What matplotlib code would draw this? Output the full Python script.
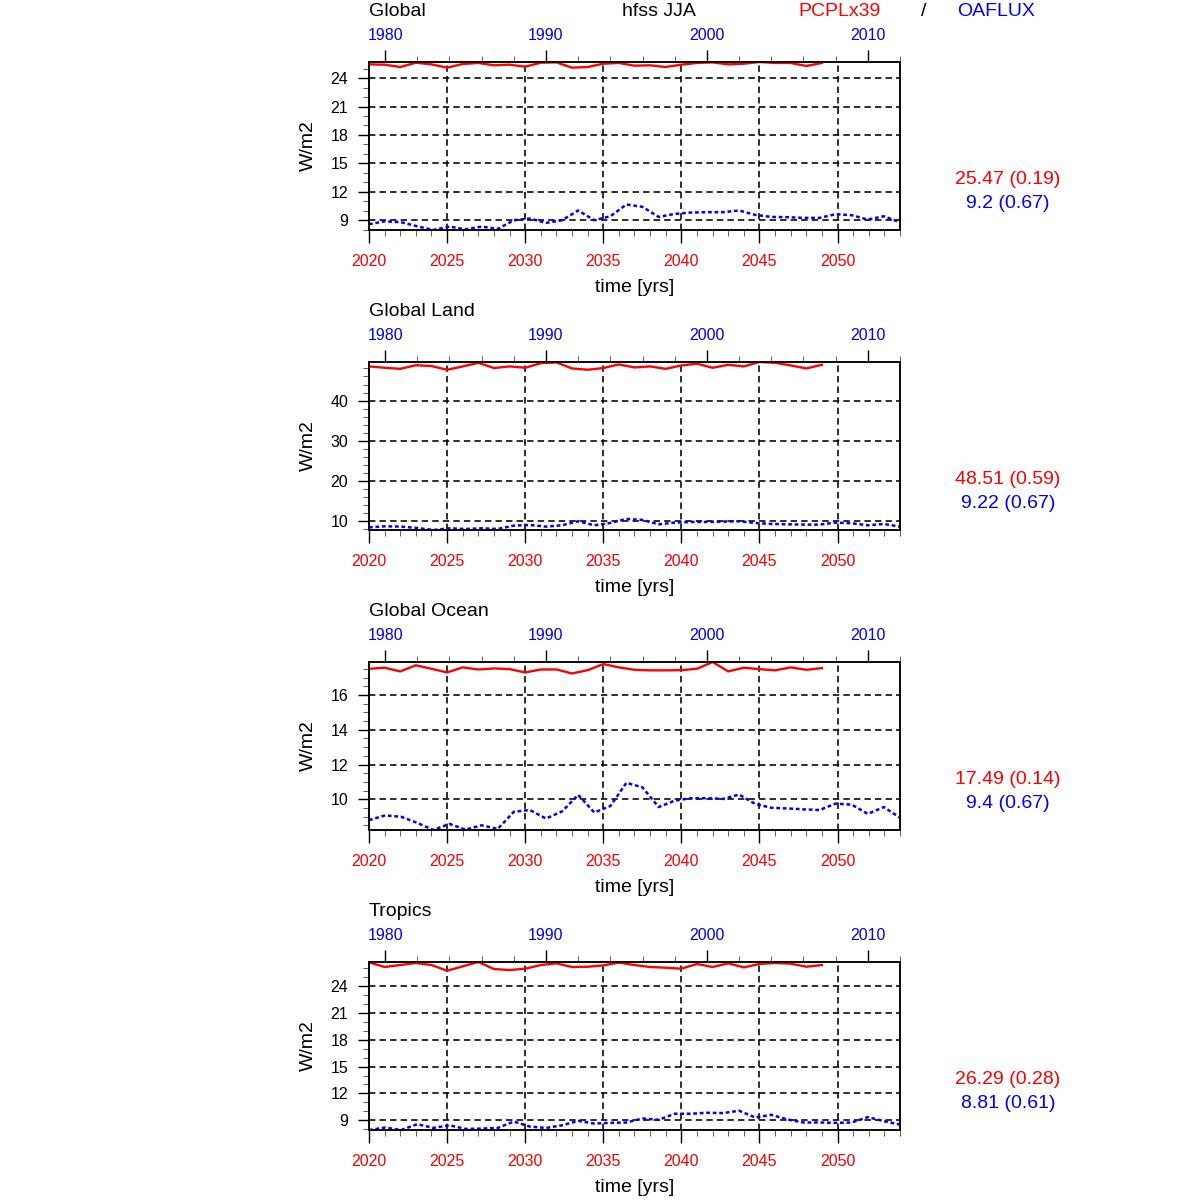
import matplotlib
matplotlib.use('Agg')
import matplotlib.pyplot as plt
from matplotlib.ticker import MultipleLocator

plt.rcParams['font.family'] = ['Liberation Sans', 'DejaVu Sans']

model_years = list(range(2020, 2050))
obs_years = list(range(1979, 2013))

regions = ["Global", "Global Land", "Global Ocean", "Tropics"]

global_model = [25.45, 25.42, 25.17, 25.63, 25.45, 25.10, 25.49, 25.60, 25.35, 25.42,
                25.20, 25.63, 25.66, 25.10, 25.17, 25.52, 25.60, 25.31, 25.35, 25.17,
                25.42, 25.60, 25.66, 25.45, 25.52, 25.70, 25.60, 25.60, 25.28, 25.60]
global_obs = [8.58, 8.89, 8.79, 8.36, 7.97, 8.33, 8.04, 8.33, 8.08, 9.00,
              9.18, 8.72, 9.00, 10.03, 9.00, 9.42, 10.66, 10.41, 9.35, 9.67,
              9.81, 9.85, 9.85, 10.03, 9.57, 9.35, 9.32, 9.25, 9.25, 9.64,
              9.53, 9.07, 9.42, 8.79]

land_model = [48.50, 48.17, 47.90, 48.80, 48.60, 47.67, 48.50, 49.40, 48.10, 48.50,
              48.17, 49.30, 49.50, 48.00, 47.67, 48.10, 49.00, 48.25, 48.50, 47.90,
              48.75, 49.17, 48.17, 48.90, 48.50, 49.60, 49.40, 48.75, 48.00, 48.90]
land_obs = [8.50, 8.75, 8.67, 8.33, 7.83, 8.25, 8.08, 8.25, 8.08, 8.92,
            9.08, 8.67, 9.00, 10.00, 9.00, 9.58, 10.58, 10.33, 9.25, 9.67,
            9.83, 9.83, 9.92, 10.00, 9.58, 9.33, 9.25, 9.17, 9.17, 9.67,
            9.50, 9.00, 9.33, 8.67]

ocean_model = [17.51, 17.57, 17.36, 17.71, 17.51, 17.30, 17.59, 17.47, 17.53, 17.49,
               17.30, 17.47, 17.47, 17.24, 17.43, 17.78, 17.59, 17.45, 17.42, 17.42,
               17.43, 17.51, 17.90, 17.36, 17.57, 17.49, 17.42, 17.59, 17.45, 17.55]
ocean_obs = [8.80, 9.07, 8.99, 8.64, 8.23, 8.58, 8.25, 8.50, 8.29, 9.28,
             9.38, 8.89, 9.30, 10.25, 9.24, 9.61, 10.95, 10.68, 9.55, 9.92,
             10.06, 10.06, 10.02, 10.27, 9.73, 9.51, 9.47, 9.42, 9.38, 9.75,
             9.69, 9.16, 9.55, 8.93]

tropics_model = [26.68, 26.16, 26.38, 26.61, 26.38, 25.74, 26.23, 26.72, 25.93, 25.82,
                 25.97, 26.38, 26.57, 26.16, 26.19, 26.34, 26.65, 26.38, 26.16, 26.08,
                 25.97, 26.50, 26.16, 26.57, 26.12, 26.50, 26.61, 26.53, 26.19, 26.38]
tropics_obs = [7.90, 8.17, 7.90, 8.55, 8.13, 8.43, 8.02, 8.06, 8.13, 8.85,
               8.28, 8.13, 8.43, 8.92, 8.62, 8.70, 8.74, 9.19, 9.04, 9.72,
               9.72, 9.83, 9.79, 10.06, 9.30, 9.60, 9.08, 8.74, 8.74, 8.70,
               8.74, 9.34, 8.89, 8.51]

model_stats = ["25.47 (0.19)", "48.51 (0.59)", "17.49 (0.14)", "26.29 (0.28)"]
obs_stats = ["9.2 (0.67)", "9.22 (0.67)", "9.4 (0.67)", "8.81 (0.61)"]

y_major = [3, 10, 2, 3]
y_minor = [1, 2, 0.5, 1]

model_series = [global_model, land_model, ocean_model, tropics_model]
obs_series = [global_obs, land_obs, ocean_obs, tropics_obs]

model_name = "PCPLx39"
obs_name = "OAFLUX"
var_title = "hfss JJA"

W = H = 1200
fig = plt.figure(figsize=(12, 12), dpi=100)

def fx(px):
    return px / W

def fy(py):
    return 1 - py / H

grid_style = dict(color='black', linestyle=(0, (4.0, 2.6)), linewidth=1.15)

for k in range(4):
    dy = 300 * k
    ax = fig.add_axes([fx(369), fy(230 + dy), fx(900) - fx(369), (230 - 62) / H])
    m = model_series[k]
    o = obs_series[k]
    lo = min(min(m), min(o))
    hi = max(max(m), max(o))

    ax.plot(model_years, m, color='red', linewidth=1.7, solid_joinstyle='round')
    ax.set_xlim(2020, 2054)
    ax.set_ylim(lo, hi)
    ax.xaxis.set_major_locator(MultipleLocator(5))
    ax.xaxis.set_minor_locator(MultipleLocator(1))
    ax.yaxis.set_major_locator(MultipleLocator(y_major[k]))
    ax.yaxis.set_minor_locator(MultipleLocator(y_minor[k]))
    ax.tick_params(axis='x', which='major', direction='out', length=9, width=1.0,
                   labelsize=11.5, labelcolor='red', pad=8.5)
    ax.tick_params(axis='x', which='minor', direction='out', length=4.5, width=0.6,
                   color='#444444')
    ax.tick_params(axis='y', which='major', direction='out', length=8, width=1.0,
                   labelsize=11.5, pad=7)
    ax.tick_params(axis='y', which='minor', direction='out', length=4.5, width=0.6,
                   color='#444444')
    ax.grid(True, which='major', **grid_style)
    for sp in ax.spines.values():
        sp.set_linewidth(1.1)

    ax2 = ax.twiny()
    ax2.plot(obs_years, o, color='blue', linewidth=1.8, linestyle=(0, (1.5, 1.1)))
    ax2.set_xlim(1979, 2012)
    ax2.xaxis.set_major_locator(MultipleLocator(10))
    ax2.xaxis.set_minor_locator(MultipleLocator(2))
    ax2.tick_params(axis='x', which='major', direction='out', length=9, width=1.0,
                    labelsize=11.5, labelcolor='blue', pad=5)
    ax2.tick_params(axis='x', which='minor', direction='out', length=4.5, width=0.6,
                    color='#444444')
    for sp in ax2.spines.values():
        sp.set_linewidth(1.1)

    fig.text(fx(369), fy(12 + dy), regions[k], fontsize=14, ha='left', va='center')
    fig.text(fx(635), fy(287 + dy), "time [yrs]", fontsize=14, ha='center', va='center')
    fig.text(fx(308), fy(146 + dy), "W/m2", fontsize=14, ha='center', va='center',
             rotation=90)
    fig.text(fx(1008), fy(179 + dy), model_stats[k], fontsize=14, color='red',
             ha='center', va='center')
    fig.text(fx(1008), fy(203 + dy), obs_stats[k], fontsize=14, color='blue',
             ha='center', va='center')

fig.text(fx(659), fy(12), var_title, fontsize=14, ha='center', va='center')
fig.text(fx(840), fy(12), model_name, fontsize=14, color='red', ha='center', va='center')
fig.text(fx(924), fy(12), "/", fontsize=14, ha='center', va='center')
fig.text(fx(996), fy(12), obs_name, fontsize=14, color='blue', ha='center', va='center')

fig.savefig('out.png', dpi=100, facecolor='white')
